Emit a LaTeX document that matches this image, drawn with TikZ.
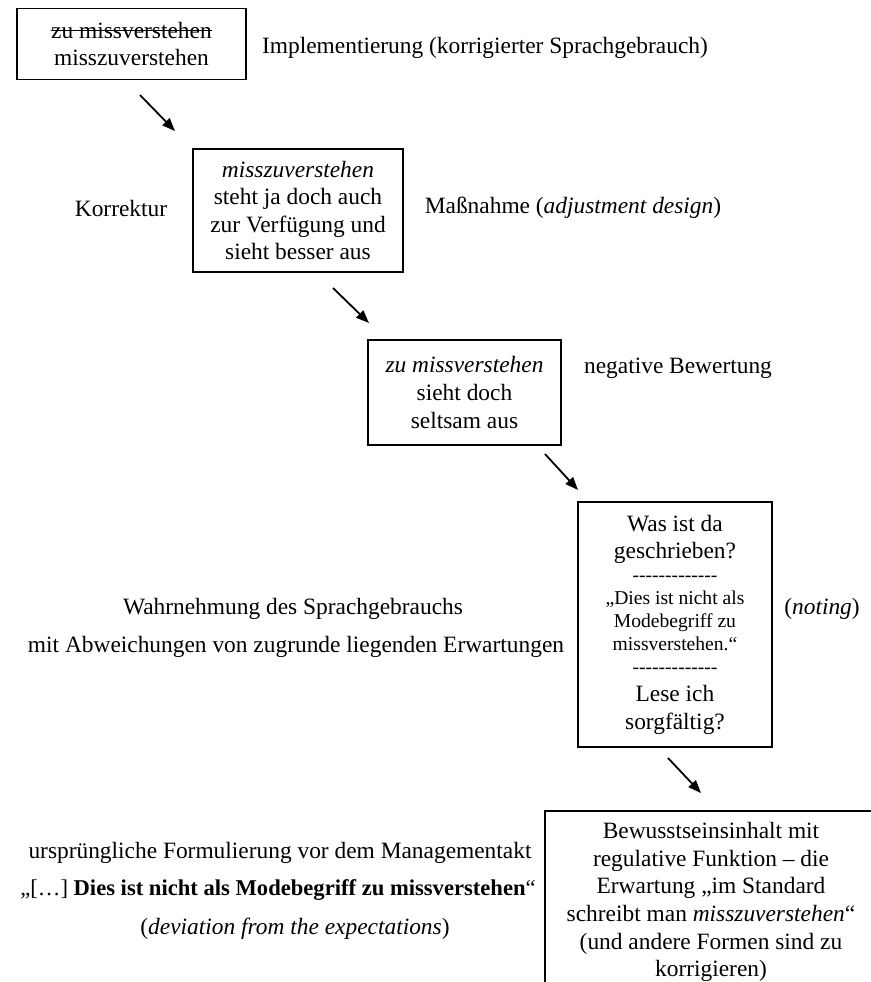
\documentclass[tikz,border=0pt]{standalone}
\usepackage{fontspec}
\setmainfont{Liberation Serif}
\usetikzlibrary{arrows.meta,calc}

\newcommand{\dashrow}{-{}-{}-{}-{}-{}-{}-{}-{}-{}-{}-{}-{}-}
\newcommand{\bigtext}{\fontsize{11.7}{13.8}\selectfont}
\newcommand{\smalltext}{\fontsize{9.8}{11.5}\selectfont}
\newsavebox{\crossbox}
\newcommand{\crossout}[1]{\sbox{\crossbox}{#1}%
    \rlap{\raisebox{0.3em}{\rule{\wd\crossbox}{0.55pt}}}\usebox{\crossbox}}

\tikzset{
    stage/.style={draw, line width=0.7pt, align=center, inner sep=0pt, font=\bigtext},
    label/.style={align=center, inner sep=0pt, font=\bigtext},
    flow/.style={-{Triangle[length=6.5pt,width=5pt]}, line width=0.9pt},
}

\begin{document}
\begin{tikzpicture}[x=0.5pt, y=-0.5pt]
        \useasboundingbox (0,0) rectangle (871,982);

        % Arrow end points
        \coordinate (a1s) at (140, 95);
        \coordinate (a1e) at (175, 131);
        \coordinate (a2s) at (333, 288);
        \coordinate (a2e) at (369, 323);
        \coordinate (a3s) at (545, 454);
        \coordinate (a3e) at (578, 490);
        \coordinate (a4s) at (668, 758);
        \coordinate (a4e) at (701, 793);

        % --- Boxes ---
        \node[stage, minimum width=114.5pt, minimum height=35.5pt] (impl) at (131.5, 44)
            {\crossout{zu missverstehen}\\ misszuverstehen};
        \node[stage, minimum width=105pt, minimum height=61.5pt] (korr) at (298, 210.5)
            {\textit{misszuverstehen}\\ steht ja doch auch\\ zur Verfügung und\\ sieht besser aus};
        \node[stage, minimum width=96.5pt, minimum height=52.5pt] (bew) at (464.5, 392.5)
            {\textit{zu missverstehen}\\ sieht doch\\ seltsam aus};
        \node[stage, text width=90pt, inner xsep=3.5pt, minimum height=122.5pt, align=flush center] (note) at (675, 624.5)
            {\bigtext Was ist da\\ geschrieben?\par
             \smalltext \dashrow\\ „Dies ist nicht als\\ Modebegriff zu\\ missverstehen.“\\ \dashrow\par
             \bigtext Lese ich\\ sorgfältig?};

        % last box runs off the page: only top and left edge
        \node[label] (norm) at (711, 902)
            {Bewusstseinsinhalt mit\\ regulative Funktion – die\\ Erwartung „im Standard\\
             schreibt man \textit{misszuverstehen}“\\ (und andere Formen sind zu\\ korrigieren)};
        \coordinate (normcorner) at (545, 811);
        \draw[line width=0.7pt] (normcorner |- 0,982) -- (normcorner) -- (normcorner -| 871,0);

        % --- Labels ---
        \node[label] (implLbl) at (485, 48) {Implementierung (korrigierter Sprachgebrauch)};
        \node[label] (korrLbl) at (121, 208) {Korrektur};
        \node[label] (massLbl) at (573, 208) {Maßnahme (\textit{adjustment design})};
        \node[label] (bewLbl) at (678, 368) {negative Bewertung};
        \node[label] (notLbl) at (822, 609) {(\textit{noting})};
        \node[label] (wahrA) at (293, 609) {Wahrnehmung des Sprachgebrauchs};
        \node[label] (wahrB) at (296, 647) {mit Abweichungen von zugrunde liegenden Erwartungen};
        \node[label] (origA) at (280, 853) {ursprüngliche Formulierung vor dem Managementakt};
        \node[label, font=\fontsize{11.3}{13.8}\selectfont] (origB) at (278, 890)
            {„[…] \textbf{Dies ist nicht als Modebegriff zu missverstehen}“};
        \node[label] (origC) at (295, 929) {(\textit{deviation from the expectations})};

        % --- Arrows ---
        \foreach \s/\e in {a1s/a1e, a2s/a2e, a3s/a3e, a4s/a4e}
            \draw[flow] (\s) -- (\e);
    \end{tikzpicture}
\end{document}
